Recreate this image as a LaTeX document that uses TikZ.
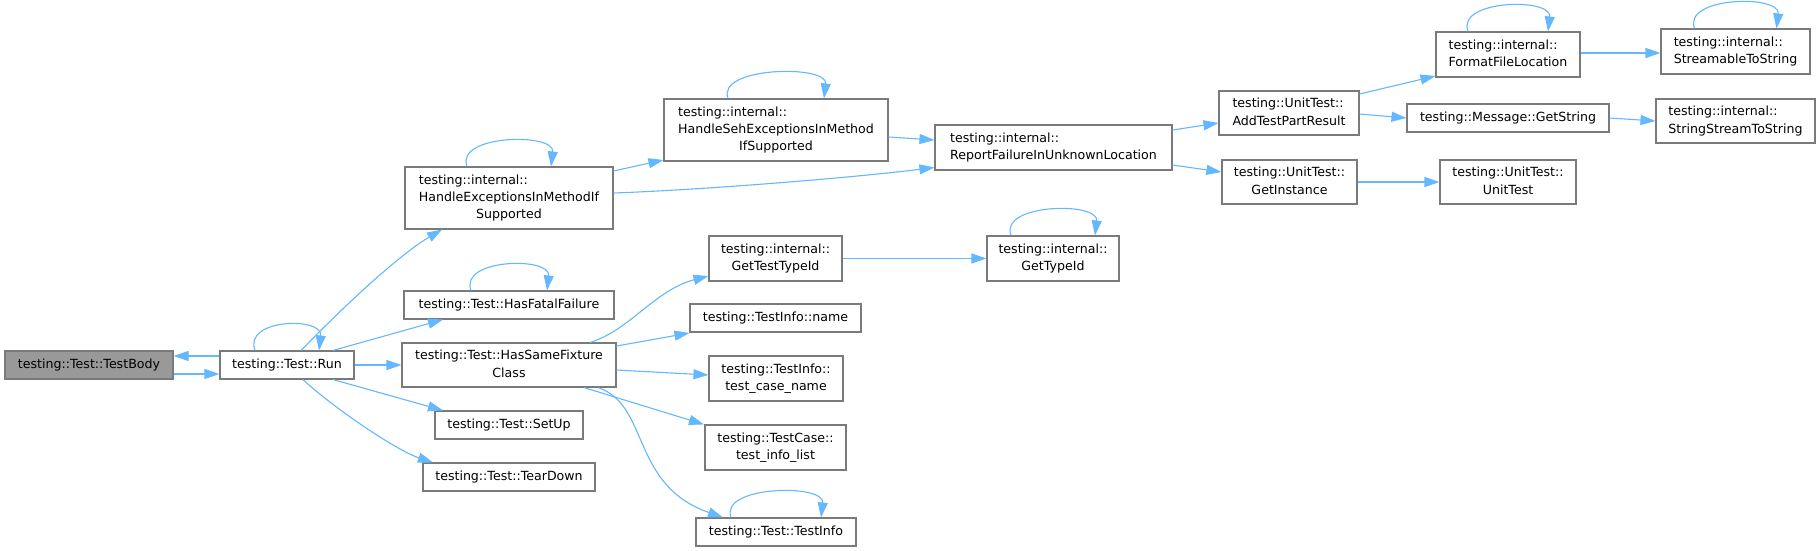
\documentclass[tikz,border=0pt]{standalone}
\usepackage{fontspec}
\usepackage{xcolor}
\usepackage{tikz}
\usetikzlibrary{arrows.meta}

\newfontfamily\doxfont{DejaVu Sans}
\definecolor{edgeblue}{HTML}{63B8FF}
\definecolor{boxline}{HTML}{7A7A7A}
\definecolor{curfill}{HTML}{999999}
% first lines flush left, last line centred
\newcommand{\fname}[2]{\begin{tabular}{@{}l@{}}#1\\\multicolumn{1}{@{}c@{}}{#2}\end{tabular}}

\begin{document}
\begin{tikzpicture}[
    x=1pt, y=-1pt,
    fn/.style={draw=boxline, line width=1.1pt, fill=white, inner sep=0pt,
      font=\doxfont\fontsize{12.6}{17.3}\selectfont},
    cur/.style={fn, fill=curfill},
    call/.style={-{Triangle[length=15pt,width=10pt]}, draw=edgeblue, line width=1.1pt}
  ]
    \path[use as bounding box, fill=white] (0,0) rectangle (1820,551);

    \node[cur, minimum width=168pt, minimum height=28pt] (body) at (89,365) {testing::Test::TestBody};
    \node[fn, minimum width=134pt, minimum height=28pt] (run) at (287,365) {testing::Test::Run};

    \node[fn, minimum width=208pt, minimum height=62pt] (hexc) at (509,198)
      {\fname{testing::internal::\\HandleExceptionsInMethodIf}{Supported}};
    \node[fn, minimum width=210pt, minimum height=28pt] (fatal) at (509,305) {testing::Test::HasFatalFailure};
    \node[fn, minimum width=214pt, minimum height=44pt] (fixture) at (509,365)
      {\fname{testing::Test::HasSameFixture}{Class}};
    \node[fn, minimum width=148pt, minimum height=28pt] (setup) at (509,425) {testing::Test::SetUp};
    \node[fn, minimum width=172pt, minimum height=28pt] (teardown) at (509,477) {testing::Test::TearDown};

    \node[fn, minimum width=224pt, minimum height=62pt] (hseh) at (776,130)
      {\fname{testing::internal::\\HandleSehExceptionsInMethod}{IfSupported}};
    \node[fn, minimum width=133pt, minimum height=45pt] (gttid) at (775.5,258.5)
      {\fname{testing::internal::}{GetTestTypeId}};
    \node[fn, minimum width=171pt, minimum height=28pt] (tiname) at (775.5,318) {testing::TestInfo::name};
    \node[fn, minimum width=134pt, minimum height=45pt] (tcname) at (776,378.5)
      {\fname{testing::TestInfo::}{test\_case\_name}};
    \node[fn, minimum width=141pt, minimum height=45pt] (tilist) at (775.5,447.5)
      {\fname{testing::TestCase::}{test\_info\_list}};
    \node[fn, minimum width=160pt, minimum height=28pt] (tinfo) at (776,532) {testing::Test::TestInfo};

    \node[fn, minimum width=237pt, minimum height=45pt] (report) at (1053.5,147.5)
      {\fname{testing::internal::}{ReportFailureInUnknownLocation}};
    \node[fn, minimum width=132pt, minimum height=45pt] (gtid) at (1053,258.5)
      {\fname{testing::internal::}{GetTypeId}};

    \node[fn, minimum width=140pt, minimum height=44pt] (addres) at (1289,113)
      {\fname{testing::UnitTest::}{AddTestPartResult}};
    \node[fn, minimum width=135pt, minimum height=44pt] (getinst) at (1289.5,182)
      {\fname{testing::UnitTest::}{GetInstance}};

    \node[fn, minimum width=144pt, minimum height=45pt] (ffl) at (1508,54.5)
      {\fname{testing::internal::}{FormatFileLocation}};
    \node[fn, minimum width=202pt, minimum height=28pt] (getstr) at (1508,118) {testing::Message::GetString};
    \node[fn, minimum width=136pt, minimum height=44pt] (utctor) at (1508,182)
      {\fname{testing::UnitTest::}{UnitTest}};

    \node[fn, minimum width=149pt, minimum height=45pt] (stts) at (1735.5,51.5)
      {\fname{testing::internal::}{StreamableToString}};
    \node[fn, minimum width=159pt, minimum height=44pt] (ssts) at (1735.5,121)
      {\fname{testing::internal::}{StringStreamToString}};

    % recursive calls
    \foreach \n/\w/\a/\c in {run/32/44/36, hexc/42/54/46, fatal/38/50/42, hseh/48/60/52,
        gtid/42/54/46, tinfo/45/57/49, ffl/40/52/44, stts/41/53/45}
      \draw[call] ([xshift=-\w pt]\n.north) .. controls ([xshift=-\a pt, yshift=32pt]\n.north)
        and ([xshift=\c pt, yshift=34pt]\n.north) .. ([xshift=\w pt]\n.north);

    \draw[call] ([yshift=9pt]run.west) -- ([yshift=9pt]body.east);
    \draw[call] ([yshift=-9pt]body.east) -- ([yshift=-9pt]run.west);

    \draw[call] ([xshift=14pt]run.north) .. controls (350,300) and (402,253) .. ([xshift=-67pt]hexc.south);
    \draw[call] ([xshift=46pt]run.north) -- ([xshift=-66pt]fatal.south);
    \draw[call] (run.east) -- (fixture.west);
    \draw[call] ([xshift=46pt]run.south) -- ([xshift=-66pt]setup.north);
    \draw[call] ([xshift=16pt]run.south) .. controls (330,405) and (395,450) .. ([xshift=-76pt]teardown.north);

    \draw[call] ([yshift=27pt]hexc.east) -- ([yshift=-30pt]hseh.west);
    \draw[call] ([yshift=5pt]hexc.east) .. controls (700,190) and (850,178) .. ([yshift=-20pt]report.west);
    \draw[call] ([yshift=-7pt]hseh.east) -- ([yshift=7.5pt]report.west);

    \draw[call] ([xshift=81pt]fixture.north) .. controls (630,330) and (655,290) .. ([yshift=-17.5pt]gttid.west);
    \draw[call] ([yshift=19pt]fixture.east) -- ([yshift=-15pt]tiname.west);
    \draw[call] ([yshift=-5pt]fixture.east) -- ([yshift=3.5pt]tcname.west);
    \draw[call] ([xshift=75pt]fixture.south) -- ([xshift=-71.5pt]tilist.north);
    \draw[call] ([xshift=89pt]fixture.south) .. controls (650,405) and (630,485) .. ([xshift=-53pt]tinfo.north);
    \draw[call] (gttid.east) -- (gtid.west);

    \draw[call] ([yshift=17.5pt]report.east) -- ([yshift=-10pt]addres.west);
    \draw[call] ([yshift=-17.5pt]report.east) -- ([yshift=10pt]getinst.west);
    \draw[call] ([yshift=19pt]addres.east) -- ([yshift=-21.5pt]ffl.west);
    \draw[call] ([yshift=-1pt]addres.east) -- (getstr.west);
    \draw[call] (getinst.east) -- (utctor.west);
    \draw[call] ([yshift=1.5pt]ffl.east) -- ([yshift=-1.5pt]stts.west);
    \draw[call] (getstr.east) -- (ssts.west);
  \end{tikzpicture}
\end{document}
